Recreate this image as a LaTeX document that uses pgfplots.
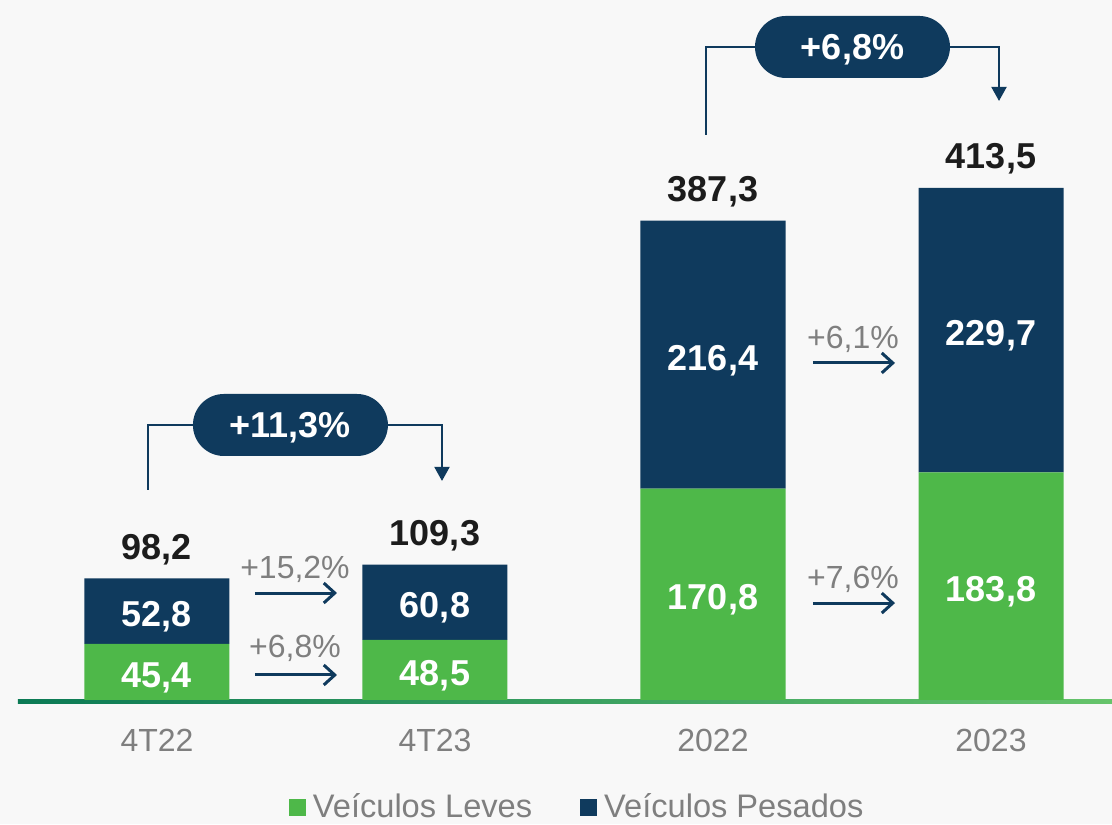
\documentclass[border=0pt]{standalone}
\usepackage{pgfplots}
\pgfplotsset{compat=1.18}
\usepackage{fontspec}
\setmainfont{Liberation Sans}
\usetikzlibrary{arrows.meta}
\definecolor{cgreen}{HTML}{4EB849}
\definecolor{cnavy}{HTML}{0F3A5D}
\definecolor{cbg}{HTML}{F8F8F8}
\definecolor{cgray}{HTML}{7F7F7F}
\definecolor{cblack}{HTML}{1C1C1C}
\definecolor{lineA}{HTML}{0B7A55}
\definecolor{lineB}{HTML}{66C46B}
\tikzset{
  inlbl/.style={font=\bfseries\fontsize{18}{22}\selectfont, text=white, text height=12.9pt, text depth=0pt, inner sep=0pt, anchor=center, yshift=-1.3pt},
  totlbl/.style={font=\bfseries\fontsize{18}{22}\selectfont, text=cblack, text height=12.9pt, text depth=0pt, inner sep=0pt, anchor=center, yshift=16pt},
  pctlbl/.style={font=\fontsize{16}{19}\selectfont, text=cgray, text height=11.5pt, text depth=0pt, inner sep=0pt, anchor=center},
  harrow/.style={cnavy, line width=1.5pt, -{Straight Barb[length=5.5pt,width=10pt]}},
  vline/.style={cnavy, line width=1pt},
  varrow/.style={cnavy, line width=1pt, -{Triangle[length=7pt,width=7.5pt]}},
  pill/.style={fill=cnavy, text=white, rounded corners=15.5pt, minimum width=97.5pt, minimum height=31pt, inner sep=0pt, text height=12.9pt, text depth=0pt, font=\bfseries\fontsize{18}{21}\selectfont},
}
\begin{document}
\begin{tikzpicture}
\begin{axis}[
  at={(0,0)}, anchor=south west,
  scale only axis, width=556pt, height=412pt,
  xmin=-0.5647, xmax=3.4353, ymin=-100.15, ymax=565.34,
  axis line style={draw=none},
  axis background/.style={fill=cbg},
  ybar stacked, bar width=0.5216,
  xtick={0,1,2,3}, xticklabels={4T22,4T23,2022,2023},
  ytick=\empty, major tick length=0pt,
  xticklabel style={font=\fontsize{16}{19}\selectfont, text=cgray, anchor=center, yshift=42pt},
  clip=false,
  legend columns=2,
  legend style={draw=none, fill=none, at={(axis cs:1.515,-86.5)}, anchor=center,
    font=\fontsize{16.3}{19}\selectfont, text=cgray,
    /tikz/every even column/.append style={column sep=22pt},
    /tikz/every odd column/.append style={column sep=1.5pt}},
  legend image code/.code={\fill[#1] (0pt,-4.25pt) rectangle (8.5pt,4.25pt);},
]
\addplot[fill=cgreen, draw=none, nodes near coords, point meta=explicit symbolic,
  every node near coord/.append style={inlbl}]
  coordinates {(0,45.4) [45,4] (1,48.5) [48,5] (2,170.8) [170,8] (3,183.8) [183,8]};
\addlegendentry{Veículos Leves}
\addplot[fill=cnavy, draw=none, nodes near coords, point meta=explicit symbolic,
  every node near coord/.append style={inlbl}]
  coordinates {(0,52.8) [52,8] (1,60.8) [60,8] (2,216.4) [216,4] (3,229.7) [229,7]};
\addlegendentry{Veículos Pesados}
% totals carried by a near-zero segment on top of each stack
\addplot[draw=none, fill=none, forget plot, nodes near coords, point meta=explicit symbolic,
  every node near coord/.append style={totlbl}]
  coordinates {(0,0.01) [98,2] (1,0.01) [109,3] (2,0.01) [387,3] (3,0.01) [413,5]};

% baseline
\fill[left color=lineA, right color=lineB] (axis cs:-0.5,-3.2) rectangle (axis cs:3.4353,0);

% horizontal growth arrows
\draw[harrow] (axis cs:0.3525,86.4) -- (axis cs:0.6475,86.4);
\draw[harrow] (axis cs:0.3525,20.2) -- (axis cs:0.6475,20.2);
\draw[harrow] (axis cs:2.3597,272.2) -- (axis cs:2.6547,272.2);
\draw[harrow] (axis cs:2.3597,78.3) -- (axis cs:2.6547,78.3);
\node[pctlbl] at (axis cs:0.4964,107.4) {+15,2\%};
\node[pctlbl] at (axis cs:0.4964,43.6) {+6,8\%};
\node[pctlbl] at (axis cs:2.5036,293.2) {+6,1\%};
\node[pctlbl] at (axis cs:2.5036,99.3) {+7,6\%};

% connectors and pills
\draw[vline] (axis cs:-0.0324,169.6) |- (axis cs:0.15,222.1);
\draw[varrow] (axis cs:0.80,222.1) -| (axis cs:1.0252,176.9);
\node[pill] at (axis cs:0.480,222.1) {+11,3\%};
\draw[vline] (axis cs:1.9748,456.3) |- (axis cs:2.18,527.4);
\draw[varrow] (axis cs:2.82,527.4) -| (axis cs:3.0288,483.8);
\node[pill] at (axis cs:2.5018,527.4) {+6,8\%};
\end{axis}
\pgfresetboundingbox
\path[use as bounding box] (0,0) rectangle (556pt,412pt);
\end{tikzpicture}
\end{document}
